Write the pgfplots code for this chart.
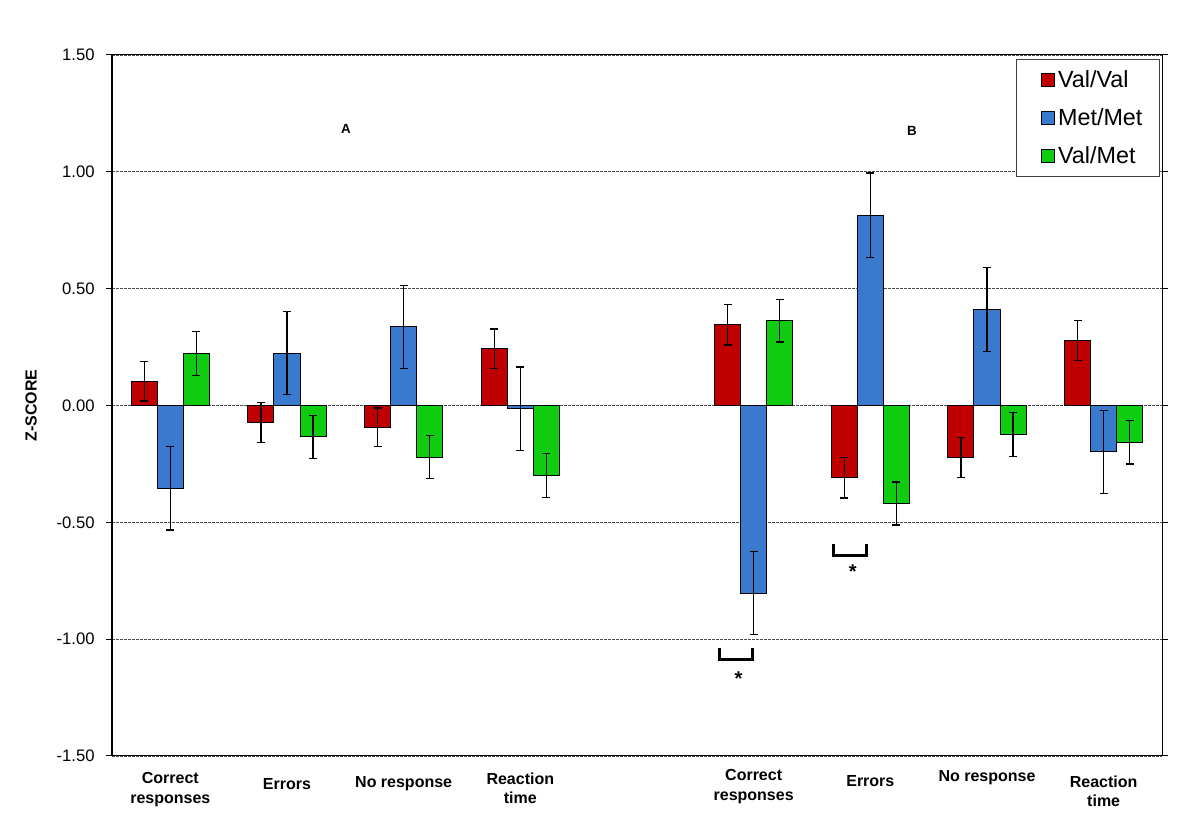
\documentclass[border=0pt]{standalone}
\usepackage{fontspec}
\setmainfont{Liberation Sans}
\usepackage{pgfplots}
\usepackage{pgfplotstable}
\pgfplotsset{compat=1.18}
\definecolor{cred}{RGB}{192,0,0}
\definecolor{cblue}{RGB}{58,122,206}
\definecolor{cgreen}{RGB}{16,204,16}
\newcommand\sh[2]{\raisebox{#1}[\height][\depth]{#2}}

\pgfplotstableread{
x y e
0 0.104 0.085
1 -0.073 0.085
2 -0.094 0.083
3 0.242 0.085
5 0.345 0.086
6 -0.310 0.086
7 -0.223 0.086
8 0.279 0.086
}\valval
\pgfplotstableread{
x y e
0 -0.355 0.178
1 0.224 0.178
2 0.336 0.179
3 -0.013 0.178
5 -0.803 0.178
6 0.815 0.180
7 0.411 0.179
8 -0.198 0.178
}\metmet
\pgfplotstableread{
x y e
0 0.224 0.094
1 -0.134 0.092
2 -0.221 0.093
3 -0.300 0.093
5 0.363 0.091
6 -0.419 0.092
7 -0.124 0.093
8 -0.157 0.093
}\valmet

\begin{document}
\begin{tikzpicture}
\begin{axis}[
  at={(0,0)}, anchor=south west,
  scale only axis, width=787.5pt, height=525.75pt,
  ybar, bar width=0.223,
  xmin=-0.5, xmax=8.5, ymin=-1.5, ymax=1.5,
  axis line style={black, line width=0.75pt},
  xtick={0,1,2,3,5,6,7,8},
  xticklabels={{Correct\\responses},
    {\sh{-4.5pt}{Errors}},
    {\sh{-3pt}{No response}},
    {Reaction\\time},
    {\sh{2.25pt}{Correct}\\\sh{2.25pt}{responses}},
    {\sh{-2.25pt}{Errors}},
    {\sh{1.5pt}{No response}},
    {\sh{-2.25pt}{Reaction}\\\sh{-2.25pt}{time}}},
  xticklabel style={align=center, anchor=north, yshift=-4.5pt, font=\bfseries\fontsize{12}{14.5}\selectfont},
  x tick style={draw=none},
  ytick={-1.5,-1,-0.5,0,0.5,1,1.5},
  y tick style={black, line width=0.75pt},
  tick align=outside, major tick length=4.5pt,
  yticklabel style={xshift=-5pt, font=\fontsize{12.5}{14}\selectfont, /pgf/number format/.cd, fixed, fixed zerofill, precision=2, assume math mode=true},
  ymajorgrids,
  grid style={black!70, line width=0.6pt, dash pattern=on 2pt off 1pt},
  legend style={at={(rel axis cs:0.998,0.9943)}, anchor=north east, draw=black!75, line width=0.75pt, fill=white,
    font=\fontsize{17.5}{20}\selectfont, row sep=10.5pt, inner xsep=10.75pt, inner ysep=6pt, cells={anchor=west}},
  legend image code/.code={\path (0pt,0pt); \draw[#1, line width=0.75pt] (8pt,-4.9pt) rectangle (17.75pt,4.9pt);},
  error bars/y dir=both, error bars/y explicit,
  error bars/error mark=-,
  error bars/error bar style={black, line width=0.9pt},
  error bars/error mark options={black, line width=0.9pt, mark size=3pt, rotate=90},
]
\addplot[fill=cred, draw=black, line width=0.75pt, bar shift=-0.223] table[x=x, y=y, y error=e] {\valval};
\addlegendentry{Val/Val}
\addplot[fill=cblue, draw=black, line width=0.75pt, bar shift=0] table[x=x, y=y, y error=e] {\metmet};
\addlegendentry{Met/Met}
\addplot[fill=cgreen, draw=black, line width=0.75pt, bar shift=0.223] table[x=x, y=y, y error=e] {\valmet};
\addlegendentry{Val/Met}

\draw[line width=1.4pt] (rel axis cs:0,1) -- (rel axis cs:0,0) -- (rel axis cs:1,0);
\node[font=\bfseries\fontsize{10}{12}\selectfont] at (axis cs:1.506,1.184) {A};
\node[font=\bfseries\fontsize{10}{12}\selectfont] at (axis cs:6.357,1.175) {B};
\draw[line width=2.25pt] (axis cs:4.703,-1.038) -- (axis cs:4.703,-1.085) -- (axis cs:4.986,-1.085) -- (axis cs:4.986,-1.038);
\node[font=\bfseries\fontsize{15}{18}\selectfont] at (axis cs:4.87,-1.17) {*};
\draw[line width=2.25pt] (axis cs:5.68,-0.592) -- (axis cs:5.68,-0.64) -- (axis cs:5.963,-0.64) -- (axis cs:5.963,-0.592);
\node[font=\bfseries\fontsize{15}{18}\selectfont] at (axis cs:5.85,-0.711) {*};
\end{axis}
\node[rotate=90, font=\bfseries\fontsize{12}{14}\selectfont] at (-60.75pt,262.875pt) {Z-SCORE};
\pgfresetboundingbox
\path (-84pt,-45.75pt) rectangle (816pt,567pt);
\end{tikzpicture}
\end{document}
